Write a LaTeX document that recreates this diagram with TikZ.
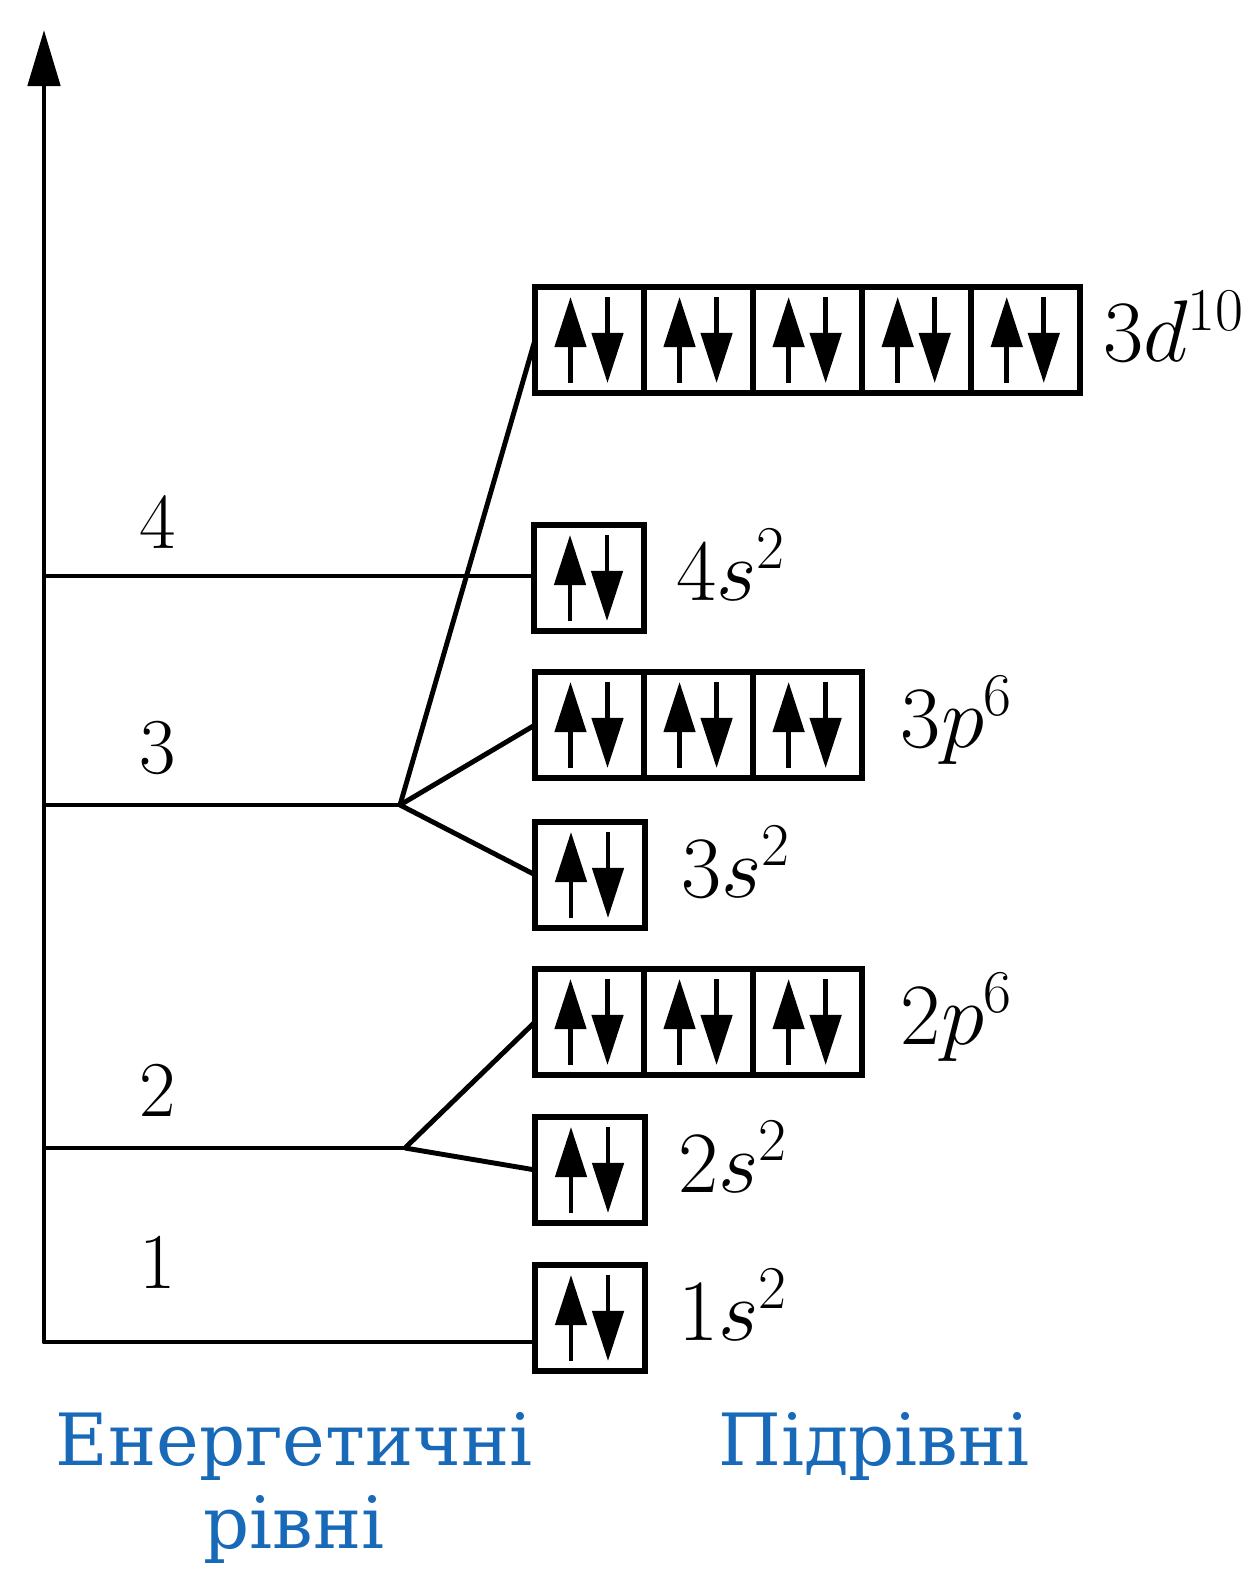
\documentclass[tikz,border=0pt]{standalone}
\usepackage{fontspec}
\newfontfamily\cyrserif{DejaVu Serif}
\usetikzlibrary{arrows.meta,positioning,calc}
\definecolor{capblue}{RGB}{25,105,185}
\begin{document}
\begin{tikzpicture}[x=0.01cm,y=-0.01cm,
  cell/.style={draw,line width=1.7pt,minimum width=1.09cm,minimum height=1.05cm,inner sep=0pt,outer sep=0pt},
  spin/.style={line width=1.3pt,-{Triangle[length=0.5cm,width=0.31cm]}},
  link/.style={line width=1.4pt,line join=round},
  lvl/.style={font=\fontsize{22.5}{26}\selectfont},
  orb/.style={anchor=base west,inner sep=0pt,font=\fontsize{23}{27}\selectfont},
  captext/.style={text=capblue,font=\cyrserif\fontsize{20.5}{23.6}\selectfont,align=center,anchor=base,inner sep=0pt}]
\useasboundingbox (0,0) rectangle (1258,1570);

% cells
\node[cell] (d1) at (589.5,340) {};
\node[cell,right=0pt of d1] (d2) {};
\node[cell,right=0pt of d2] (d3) {};
\node[cell,right=0pt of d3] (d4) {};
\node[cell,right=0pt of d4] (d5) {};
\node[cell] (s4) at (589,578) {};
\node[cell] (p31) at (589.5,725) {};
\node[cell,right=0pt of p31] (p32) {};
\node[cell,right=0pt of p32] (p33) {};
\node[cell] (s3) at (590,875) {};
\node[cell] (p21) at (589.5,1022) {};
\node[cell,right=0pt of p21] (p22) {};
\node[cell,right=0pt of p22] (p23) {};
\node[cell] (s2) at (590,1170) {};
\node[cell] (s1) at (590,1318) {};

\foreach \c in {d1,d2,d3,d4,d5,s4,p31,p32,p33,s3,p21,p22,p23,s2,s1}{
  \draw[spin] ([shift={(-19,43)}]\c.center) -- ++(0,-86);
  \draw[spin] ([shift={(18,-43)}]\c.center) -- ++(0,86);
}

% axis and levels
\coordinate (top) at (44,30);
\coordinate (L1) at (44,1342);
\coordinate (L2) at (44,1148);
\coordinate (L3) at (44,805);
\coordinate (L4) at (44,576);
\coordinate (b2) at (405,1148);
\coordinate (b3) at (400,805);

\draw[link,-{Triangle[length=0.56cm,width=0.32cm]}] (L1 -| s1.west) -- (L1) -- (top);
\draw[link] (L4) -- (L4 -| s4.west);
\draw[link] (L3) -- (b3);
\draw[link] (b3) -- (s3.west);
\draw[link] (b3) -- (p31.west);
\draw[link] (b3) -- (d1.west);
\draw[link] (L2) -- (b2);
\draw[link] (b2) -- (s2.west);
\draw[link] (b2) -- (p21.west);

% level numbers
\node[lvl] (n4) at (158,522) {4};
\node[lvl] (n3) at (158,748) {3};
\node[lvl] (n2) at (158,1090) {2};
\node[lvl] (n1) at (158,1262) {1};

% sublevel labels
\node[orb] (t3d) at ($(d5.east)+(22,22)$) {$3d^{10}$};
\node[orb] (t4s) at ($(s4.east)+(32,22)$) {$4s^{2}$};
\node[orb] (t3p) at ($(p33.east)+(38,22)$) {$3p^{6}$};
\node[orb] (t3s) at ($(s3.east)+(36,22)$) {$3s^{2}$};
\node[orb] (t2p) at ($(p23.east)+(38,22)$) {$2p^{6}$};
\node[orb] (t2s) at ($(s2.east)+(33,22)$) {$2s^{2}$};
\node[orb] (t1s) at ($(s1.east)+(33,22)$) {$1s^{2}$};

% captions
\node[captext] (cap1) at (294,1548) {Енергетичні\\рівні};
\node[captext] (cap2) at (874,1465) {Підрівні};
\end{tikzpicture}
\end{document}
